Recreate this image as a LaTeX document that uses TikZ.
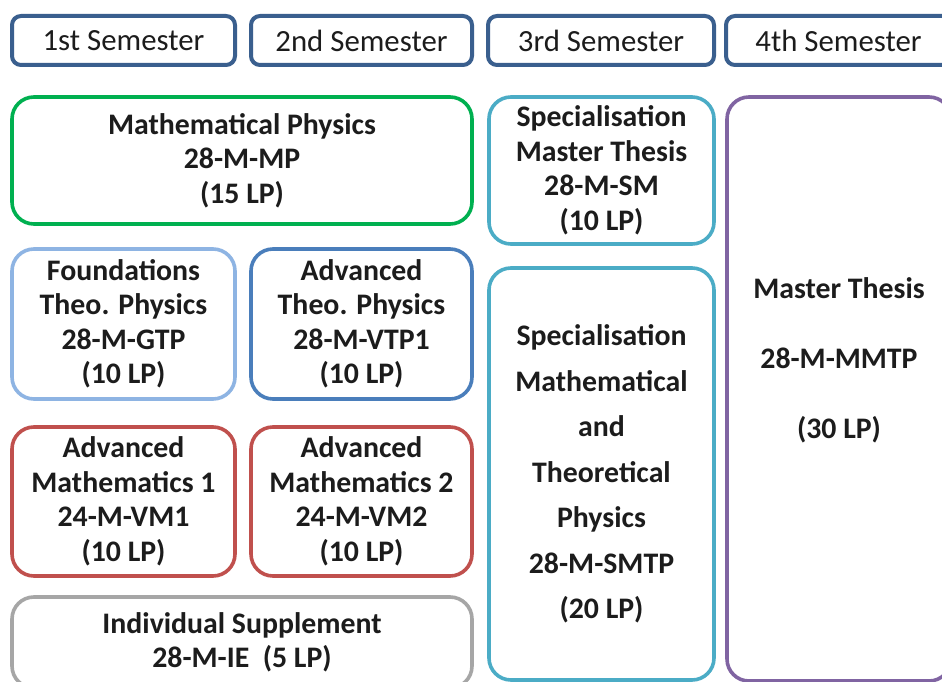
\documentclass[tikz,border=0pt]{standalone}
\usepackage{fontspec}
\setmainfont{Carlito}
\definecolor{cgreen}{HTML}{00B050}
\definecolor{cteal}{HTML}{4BACC6}
\definecolor{cpurple}{HTML}{8064A2}
\definecolor{clblue}{HTML}{8EB4E3}
\definecolor{cblue}{HTML}{4A7EBB}
\definecolor{cred}{HTML}{C0504D}
\definecolor{cgray}{HTML}{A6A6A6}
\definecolor{chdr}{HTML}{3A5F8E}
\definecolor{ctxt}{HTML}{1C1C1C}
\begin{document}
\begin{tikzpicture}[x=1pt,y=-1pt,
  modbox/.style={draw, line width=3.6pt, rounded corners=22pt, fill=white, inner sep=0pt,
    align=center, text=ctxt, font=\fontsize{29.8}{34.5}\selectfont\bfseries},
  hdrbox/.style={draw=chdr, line width=4pt, rounded corners=9pt, fill=white, inner sep=0pt,
    minimum height=49pt, text=ctxt, font=\fontsize{30.8}{34}\selectfont},
  plaintxt/.style={align=center, inner sep=0pt, text=ctxt}]
\useasboundingbox (0,0) rectangle (942,682);
\clip (0,0) rectangle (942,682);
\fill[white] (0,0) rectangle (942,682);
% headers
\node[hdrbox, minimum width=223pt] (h1) at (123.5,40.5) {1st Semester};
\node[hdrbox, minimum width=221pt] (h2) at (361.5,40.5) {2nd Semester};
\node[hdrbox, minimum width=226pt] (h3) at (601,40.5) {3rd Semester};
\node[hdrbox, minimum width=225pt] (h4) at (838.5,40.5) {4th Semester};
% modules
\node[modbox, draw=cgreen, minimum width=460pt, minimum height=127pt] (mp) at (242,160.5)
  {Mathematical Physics\\28-M-MP\\(15 LP)};
\node[modbox, draw=cteal, minimum width=225pt, minimum height=147pt] (sm) at (601.5,170.5)
  {Specialisation\\Master Thesis\\28-M-SM\\(10 LP)};
\node[modbox, draw=clblue, minimum width=223pt, minimum height=150pt] (gtp) at (123.5,324)
  {Foundations\\Theo. Physics\\28-M-GTP\\(10 LP)};
\node[modbox, draw=cblue, minimum width=221pt, minimum height=150pt] (vtp) at (361.5,324)
  {Advanced\\Theo. Physics\\28-M-VTP1\\(10 LP)};
\node[modbox, draw=cred, minimum width=223pt, minimum height=149pt] (vm1) at (123.5,501.5)
  {Advanced\\Mathematics 1\\24-M-VM1\\(10 LP)};
\node[modbox, draw=cred, minimum width=221pt, minimum height=149pt] (vm2) at (361.5,501.5)
  {Advanced\\Mathematics 2\\24-M-VM2\\(10 LP)};
\node[modbox, draw=cgray, minimum width=460pt, minimum height=91pt] (ie) at (242,642.5)
  {Individual Supplement\\28-M-IE\ \ (5 LP)};
\node[modbox, draw=cteal, minimum width=225pt, minimum height=412pt,
  font=\fontsize{29.8}{45.5}\selectfont\bfseries] (smtp) at (601.5,474)
  {Specialisation\\Mathematical\\and\\Theoretical\\Physics\\28-M-SMTP\\(20 LP)};
\node[modbox, draw=cpurple, minimum width=224pt, minimum height=584pt] (mt) at (839,389) {};
\node[plaintxt, font=\fontsize{29.8}{70}\selectfont\bfseries] (mtt) at (839,360)
  {Master Thesis\\28-M-MMTP\\(30 LP)};
\end{tikzpicture}
\end{document}
